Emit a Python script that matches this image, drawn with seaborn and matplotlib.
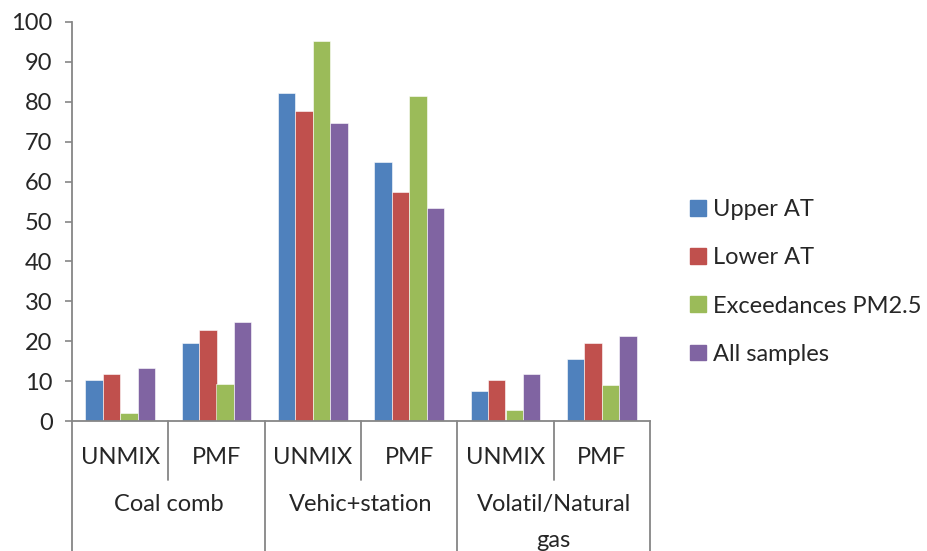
import matplotlib
matplotlib.use("Agg")
import matplotlib.pyplot as plt
import seaborn as sns
import pandas as pd

# Donnees
sources = ["Coal comb", "Vehic+station", "Volatil/Natural\ngas"]
methods = ["UNMIX", "PMF"]
series = ["Upper AT", "Lower AT", "Exceedances PM2.5", "All samples"]

upper_at = [10.3, 19.5, 82.1, 64.8, 7.4, 15.5]
lower_at = [11.7, 22.7, 77.7, 57.3, 10.3, 19.6]
exceed_pm25 = [1.9, 9.3, 95.3, 81.5, 2.7, 9.0]
all_samples = [13.3, 24.9, 74.6, 53.4, 11.9, 21.4]

colors = ["#4F81BD", "#C0504D", "#9BBB59", "#8064A2"]

# Format long pour seaborn
groups = [f"{s}|{m}" for s in sources for m in methods]
rows = []
for name, vals in zip(series, [upper_at, lower_at, exceed_pm25, all_samples]):
    for g, v in zip(groups, vals):
        rows.append({"groupe": g, "serie": name, "valeur": v})
df = pd.DataFrame(rows)

sns.set_style("white")
plt.rcParams["font.family"] = ["Lato", "DejaVu Sans"]
FS = 17

fig = plt.figure(figsize=(9.27, 5.51), dpi=100)
ax = fig.add_axes([72 / 927, 1 - 421 / 551, (650 - 72) / 927, (421 - 22) / 551])

sns.barplot(data=df, x="groupe", y="valeur", hue="serie", order=groups,
            hue_order=series, palette=colors, width=0.72, saturation=1,
            edgecolor="white", linewidth=0.4, ax=ax)

ax.set_ylim(0, 100)
ax.set_xlim(-0.5, len(groups) - 0.5)
ax.set_yticks(range(0, 101, 10))
ax.tick_params(axis="y", labelsize=FS, length=5, width=1.2, color="#868686",
               direction="out", left=True, pad=9)
ax.set_xticks([])
ax.set_xlabel("")
ax.set_ylabel("")
for side in ["top", "right"]:
    ax.spines[side].set_visible(False)
for side in ["left", "bottom"]:
    ax.spines[side].set_color("#868686")
    ax.spines[side].set_linewidth(1.3)

# Axe des x a deux niveaux (style Excel)
trans = ax.get_xaxis_transform()
inner_bottom = -(480 - 421) / (421 - 22)
outer_bottom = -(551 - 421) / (421 - 22)
for i in range(len(groups) + 1):
    x = i - 0.5
    y0 = outer_bottom if i % 2 == 0 else inner_bottom
    ax.plot([x, x], [0, y0], transform=trans, color="#868686", lw=1.3, clip_on=False)
for i, g in enumerate(groups):
    ax.text(i, -(457 - 421) / (421 - 22), g.split("|")[1], transform=trans,
            ha="center", va="center", fontsize=FS)
for j, s in enumerate(sources):
    ax.text(2 * j + 0.5, -(494 - 421) / (421 - 22), s, transform=trans,
            ha="center", va="top", fontsize=FS, linespacing=1.9)

ax.get_legend().remove()
handles = [plt.Rectangle((0, 0), 1, 1, color=c) for c in colors]
fig.legend(handles, series, loc="center left", bbox_to_anchor=(669 / 927, 1 - 282 / 551),
           frameon=False, fontsize=FS, handlelength=0.65, handleheight=0.65,
           handletextpad=0.3, labelspacing=1.15)

plt.savefig("out.png", dpi=100)
plt.close()
